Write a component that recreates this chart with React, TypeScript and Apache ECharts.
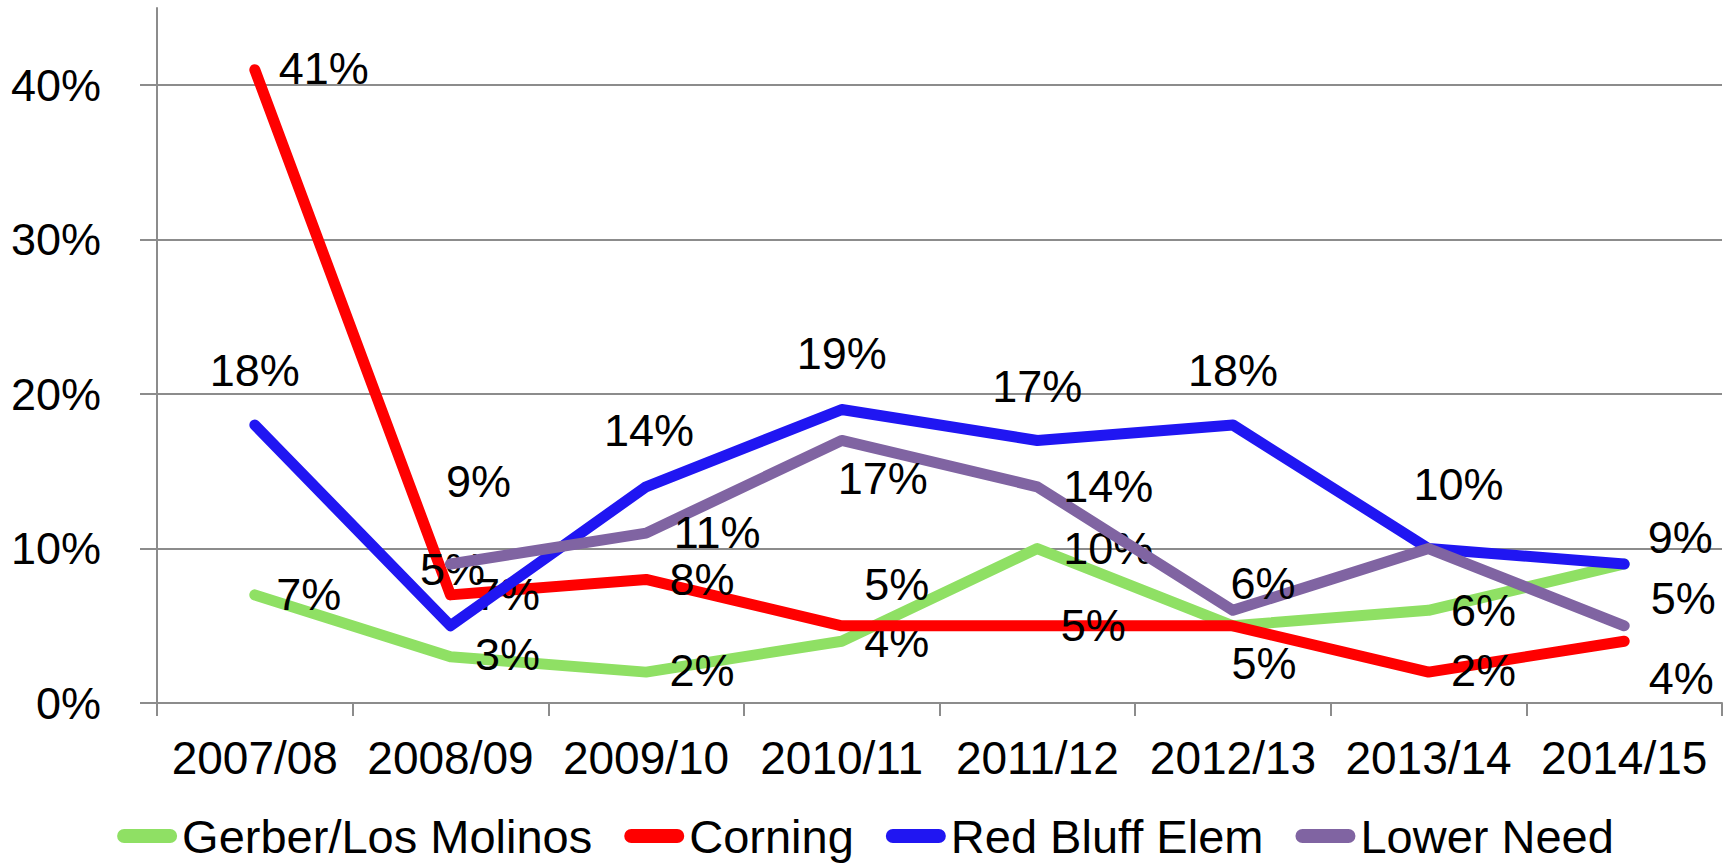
import React, { useEffect, useRef } from "react";
import * as echarts from "echarts";

const categories = ["2007/08", "2008/09", "2009/10", "2010/11", "2011/12", "2012/13", "2013/14", "2014/15"];
const gerber = [7, 3, 2, 4, 10, 5, 6, 9];
const corning = [41, 7, 8, 5, 5, 5, 2, 4];
const redBluff = [18, 5, 14, 19, 17, 18, 10, 9];
const lowerNeed: (number | null)[] = [null, 9, 11, 17, 14, 6, 10, 5];
const yTickValues = [0, 10, 20, 30, 40];
const seriesNames = ["Gerber/Los Molinos", "Corning", "Red Bluff Elem", "Lower Need"];

// label placement (offset from point) per series; null hides a label that sits on another
const gerberLabelOffsets = [[54, 0], [57, -2], [56, -2], [55, 0], [71, 0], [31, 38], [55, 0], null];
const corningLabelOffsets = [[69, -1], [57, 0], [56, 0], [55, -41], [56, 0], null, [55, -2], [57, 37]];
const redBluffLabelOffsets = [[0, -55], [2, -56], [3, -56], [0, -56], [0, -54], [0, -55], [30, -64], [56, -27]];
const lowerNeedLabelOffsets = [null, [28, -83], [71, -1], [41, 38], [71, 0], [30, -27], null, [59, -27]];

const colors = ["#8FE064", "#FF0000", "#2016F2", "#8064A2"];
const FONT = "'Liberation Sans', Arial, sans-serif";

function buildData(values: (number | null)[], offsets: (number[] | null)[]) {
  return values.map((v, i) => {
    const off = offsets[i];
    if (v === null) return { value: null };
    return off ? { value: v, label: { show: true, offset: off } } : { value: v, label: { show: false } };
  });
}

export default function App() {
  const ref = useRef<HTMLDivElement>(null);
  useEffect(() => {
    if (!ref.current) return;
    const chart = echarts.init(ref.current, null, { renderer: "svg" });
    const allValues = [gerber, corning, redBluff, lowerNeed];
    const allOffsets = [gerberLabelOffsets, corningLabelOffsets, redBluffLabelOffsets, lowerNeedLabelOffsets];
    chart.setOption({
      animation: false,
      textStyle: { fontFamily: FONT },
      grid: { left: 157, right: 9, top: 8, bottom: 164, containLabel: false },
      legend: {
        data: seriesNames,
        left: "center",
        top: 806,
        itemWidth: 60,
        itemHeight: 15,
        itemGap: 32,
        icon: "path://M7,0 H53 A7,7 0 0 1 53,14 H7 A7,7 0 0 1 7,0 Z",
        textStyle: { fontSize: 47, color: "#000", fontFamily: FONT, lineHeight: 50 },
      },
      xAxis: {
        type: "category",
        data: categories,
        boundaryGap: true,
        axisLine: { show: true, lineStyle: { color: "#8C8C8C", width: 2 } },
        axisTick: { show: true, length: 13, lineStyle: { color: "#8C8C8C", width: 2 } },
        axisLabel: { fontSize: 46, color: "#000", margin: 32, fontFamily: FONT, interval: 0 },
        splitLine: { show: false },
      },
      yAxis: {
        type: "value",
        min: 0,
        max: 45,
        interval: 10,
        axisLine: { show: true, lineStyle: { color: "#8C8C8C", width: 2 } },
        axisTick: { show: true, length: 17, customValues: yTickValues, lineStyle: { color: "#8C8C8C", width: 2 } },
        axisLabel: {
          fontSize: 45,
          color: "#000",
          margin: 56,
          fontFamily: FONT,
          customValues: yTickValues,
          formatter: (v: number) => v + "%",
        },
        splitLine: { show: true, lineStyle: { color: "#8C8C8C", width: 2 } },
      },
      series: allValues.map((vals, si) => ({
        type: "line",
        name: seriesNames[si],
        data: buildData(vals, allOffsets[si]),
        symbol: "circle",
        symbolSize: 2,
        showSymbol: true,
        connectNulls: false,
        z: 2 + si,
        itemStyle: { color: colors[si] },
        lineStyle: { color: colors[si], width: 11, cap: "round", join: "round" },
        emphasis: { disabled: true },
        label: {
          show: true,
          position: "inside",
          formatter: "{c}%",
          fontSize: 45,
          color: "#000",
          fontFamily: FONT,
        },
      })),
    });
    return () => chart.dispose();
  }, []);
  return (
    <div
      ref={ref}
      style={{ position: "absolute", left: 0, top: 0, width: 1731, height: 867, background: "#fff" }}
    />
  );
}
